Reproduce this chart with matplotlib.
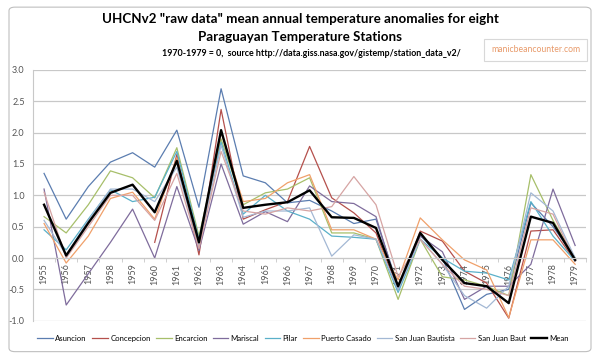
import numpy as np
import matplotlib
matplotlib.use('Agg')
import matplotlib.pyplot as plt
from matplotlib.patches import FancyBboxPatch

plt.rcParams['font.family'] = ['Lato', 'DejaVu Sans']

nan = np.nan
years = [str(y) for y in range(1955, 1980)]

# значения аномалий по станциям
asuncion = [1.35, 0.62, 1.14, 1.53, 1.68, 1.45, 2.04, 0.81, 2.70, 1.31, 1.20, 0.88, 0.92,
            0.75, 0.55, 0.62, -0.45, 0.36, 0.00, -0.82, -0.58, -0.50, 0.88, 0.50, 0.00]
concepcion = [nan, nan, nan, nan, nan, 0.25, 1.65, 0.05, 2.37, 0.62, 0.77, 0.90, 1.78,
              0.96, 0.72, 0.40, -0.50, 0.43, 0.27, -0.21, -0.40, -0.96, 0.43, 0.45, -0.05]
encarcion = [0.66, 0.40, 0.85, 1.39, 1.28, 0.96, 1.76, 0.35, 1.90, 0.85, 1.04, 1.10, 1.28,
             0.40, 0.40, 0.30, -0.66, 0.30, -0.30, -0.35, -0.45, -0.60, 1.33, 0.60, 0.00]
mariscal = [1.10, -0.75, -0.25, 0.25, 0.78, 0.00, 1.14, 0.12, 1.50, 0.54, 0.74, 0.58, 1.15,
            0.90, 0.87, 0.66, -0.50, 0.35, 0.10, -0.66, -0.45, -0.45, -0.10, 1.10, 0.20]
pilar = [0.45, 0.13, 0.62, 1.09, 0.90, 0.97, 1.70, 0.30, 1.85, 0.70, 1.00, 0.75, 0.62,
         0.35, 0.33, 0.30, -0.55, 0.30, 0.00, -0.21, -0.24, -0.35, 0.90, 0.35, -0.05]
puerto_casado = [0.55, -0.08, 0.35, 0.95, 1.05, 0.62, 1.60, 0.20, 2.00, 0.90, 0.95, 1.20, 1.33,
                 0.45, 0.45, 0.30, -0.35, 0.64, 0.29, -0.03, -0.19, -0.95, 0.29, 0.29, -0.10]
sj_bautista = [0.60, 0.05, 0.60, 1.10, 1.10, 0.90, 1.45, 0.20, 1.80, 0.65, 0.75, 0.75, 0.80,
               0.03, 0.37, 0.30, -0.50, 0.30, -0.10, -0.60, -0.80, -0.45, 1.04, 0.75, 0.00]
sj_baut = [1.05, 0.00, 0.50, 1.00, 1.00, 0.60, 1.35, 0.15, 1.70, 0.75, 0.70, 0.80, 0.75,
           0.82, 1.30, 0.85, -0.30, 0.30, -0.10, -0.45, -0.50, -0.60, 0.80, 0.70, -0.05]
mean = [0.85, 0.04, 0.56, 1.04, 1.17, 0.73, 1.55, 0.25, 2.04, 0.80, 0.85, 0.89, 1.08,
        0.65, 0.64, 0.48, -0.45, 0.40, -0.03, -0.40, -0.45, -0.72, 0.66, 0.56, -0.03]

series = [
    ("Asuncion", asuncion, '#5b7db0'),
    ("Concepcion", concepcion, '#b5504c'),
    ("Encarcion", encarcion, '#a7bf6a'),
    ("Mariscal", mariscal, '#7f6c9c'),
    ("Pilar", pilar, '#5ab0c9'),
    ("Puerto Casado", puerto_casado, '#f0a06a'),
    ("San Juan Bautista", sj_bautista, '#a3b8d4'),
    ("San Juan Baut", sj_baut, '#d6a4a3'),
]

fig = plt.figure(figsize=(6, 3.57), dpi=100)
ax = fig.add_axes([0.055, 0.1017, 0.922, 0.7023])

x = np.arange(len(years))
for name, vals, col in series:
    ax.plot(x, vals, color=col, lw=0.9, label=name)
ax.plot(x, mean, color='black', lw=1.7, label='Mean')

ax.set_xlim(-0.5, len(years) - 0.5)
ax.set_ylim(-1.0, 3.0)
ax.set_yticks(np.arange(-1.0, 3.01, 0.5))
ax.set_yticklabels([f'{v:.1f}' for v in np.arange(-1.0, 3.01, 0.5)], fontsize=6.5, color='#555555')
ax.yaxis.grid(True, color='#c8c8c8', lw=0.9)
ax.set_axisbelow(True)
ax.tick_params(axis='y', length=0, pad=6)

ax.spines['top'].set_visible(False)
ax.spines['right'].set_visible(False)
ax.spines['left'].set_color('#c8c8c8')
ax.spines['bottom'].set_position(('data', 0))
ax.spines['bottom'].set_color('#c8c8c8')
ax.set_xticks(x)
ax.set_xticklabels(years, rotation=90, fontsize=6.5, color='#555555')
ax.set_xticks(np.arange(-0.5, len(years), 1), minor=True)
ax.tick_params(axis='x', which='major', length=0, pad=4)
ax.tick_params(axis='x', which='minor', length=3, color='#c8c8c8')

fig.text(0.5, 0.947, 'UHCNv2 "raw data" mean annual temperature anomalies for eight',
         ha='center', va='center', fontsize=9.6, fontweight='bold')
fig.text(0.5, 0.897, 'Paraguayan Temperature Stations',
         ha='center', va='center', fontsize=9.6, fontweight='bold')
fig.text(0.519, 0.851, '1970-1979 = 0,  source http://data.giss.nasa.gov/gistemp/station_data_v2/',
         ha='center', va='center', fontsize=6.4, fontweight='bold')
fig.text(0.893, 0.86, 'manicbeancounter.com', ha='center', va='center', fontsize=6.2,
         color='#e89a6a',
         bbox=dict(boxstyle='square,pad=0.8', facecolor='white', edgecolor='#d8d8d8', lw=0.8))

fig.legend(loc='center', bbox_to_anchor=(0.505, 0.052), ncol=9, fontsize=5.6, frameon=False,
           handlelength=2.0, handletextpad=0.3, columnspacing=0.7)

border = FancyBboxPatch((0.015, 0.015), 0.97, 0.965, boxstyle='round,pad=0,rounding_size=0.01',
                        transform=fig.transFigure, facecolor='none', edgecolor='#bfbfbf', lw=0.8)
fig.patches.append(border)

fig.savefig('out.png', dpi=100)
